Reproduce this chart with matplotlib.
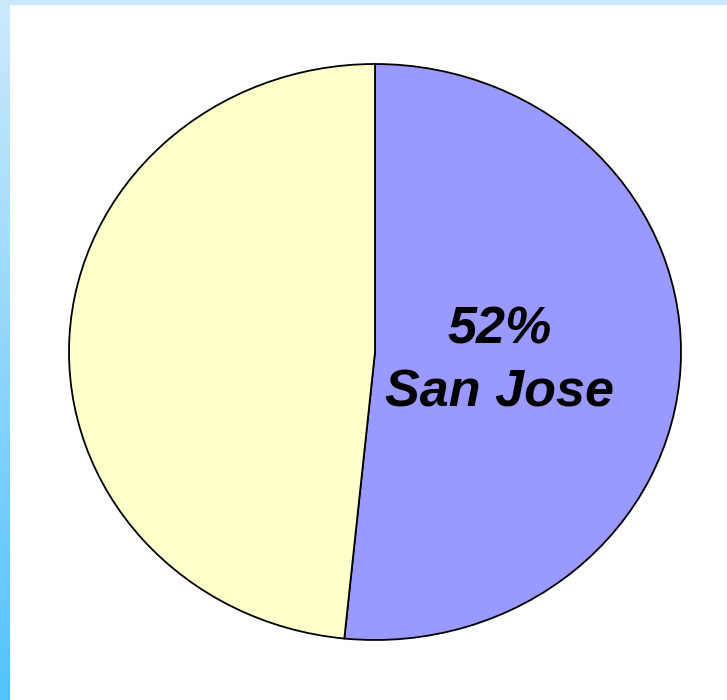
import numpy as np
import matplotlib.pyplot as plt
from matplotlib.colors import LinearSegmentedColormap

# ============================================================
# Data
# ============================================================
labels = ["San Jose", ""]
shares = [51.6, 48.4]
colors = ["#9999ff", "#ffffcc"]

W, H = 727, 700
fig = plt.figure(figsize=(W / 100, H / 100), dpi=100)
fig.patch.set_facecolor("white")

# decorative strips (top bar + left gradient bar)
top = fig.add_axes([0, 1 - 5 / H, 1, 5 / H])
top.axis("off")
top.add_patch(plt.Rectangle((0, 0), 1, 1, color="#c8e9fd", transform=top.transAxes))

left = fig.add_axes([0, 0, 10 / W, 1])
grad = np.linspace(0, 1, 256).reshape(-1, 1)
cmap = LinearSegmentedColormap.from_list("strip", ["#cdeafc", "#52c3fd"])
left.imshow(grad, aspect="auto", cmap=cmap, extent=[0, 1, 0, 1], origin="upper")
left.axis("off")

# ============================================================
# Pie
# ============================================================
ax = fig.add_axes([69 / W, (H - 640) / H, 612 / W, 576 / H])
wedges, _ = ax.pie(
    shares,
    colors=colors,
    startangle=90,
    counterclock=False,
    radius=1,
    wedgeprops=dict(edgecolor="black", linewidth=1.3),
)
for w in wedges:
    w.set_clip_on(False)
ax.set_aspect("auto")
ax.set_xlim(-1, 1)
ax.set_ylim(-1, 1)
ax.axis("off")

font = dict(family="Liberation Sans", weight="bold", style="italic",
            fontsize=37.5, ha="center", va="center", color="black")
ax.text(0.408, 0.078, f"{round(shares[0])}%", **font)
ax.text(0.408, -0.142, labels[0], **font)

fig.savefig("out.png", dpi=100)
